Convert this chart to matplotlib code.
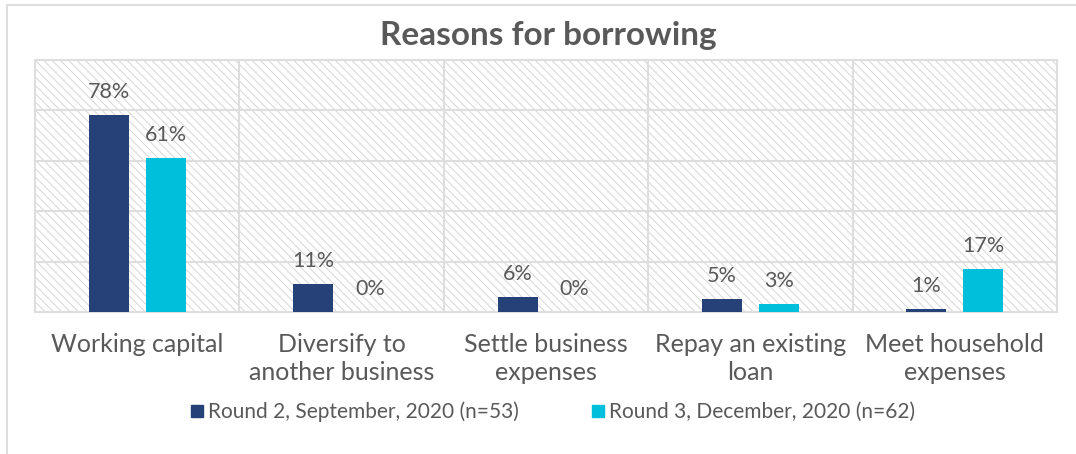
import matplotlib
matplotlib.use("Agg")
import matplotlib.pyplot as plt
from matplotlib.patches import Rectangle
from matplotlib.lines import Line2D
import numpy as np

categories = ["Working capital", "Diversify to\nanother business", "Settle business\nexpenses",
              "Repay an existing\nloan", "Meet household\nexpenses"]
round2_label = "Round 2, September, 2020 (n=53)"
round3_label = "Round 3, December, 2020 (n=62)"
round2 = [78, 11, 6, 5, 1]
round3 = [61, 0, 0, 3, 17]
title = "Reasons for borrowing"

NAVY = "#264078"
CYAN = "#00BFDB"
TEXT = "#595959"
GRID = "#dedede"

plt.rcParams["font.family"] = ["Lato", "DejaVu Sans"]
plt.rcParams["hatch.color"] = "#d6d6d6"
plt.rcParams["hatch.linewidth"] = 0.7

W, H = 1076, 454
fig = plt.figure(figsize=(W / 100, H / 100), dpi=100)
ax = fig.add_axes([35 / W, 142 / H, (1057 - 35) / W, (312 - 60) / H])

# hatched plot-area background
bg = Rectangle((0, 0), 1, 1, transform=ax.transAxes, facecolor="white",
               edgecolor="#d6d6d6", hatch="\\\\\\\\", linewidth=0, zorder=0)
ax.add_patch(bg)

x = np.arange(len(categories))
w = 0.196
off = 0.139
b2 = ax.bar(x - off, round2, w, color=NAVY, zorder=3)
b3 = ax.bar(x + off, round3, w, color=CYAN, zorder=3)

for bars, vals in ((b2, round2), (b3, round3)):
    for rect, v in zip(bars, vals):
        ax.annotate(f"{v}%", (rect.get_x() + rect.get_width() / 2, v),
                    xytext=(0, 12.5), textcoords="offset points",
                    ha="center", va="baseline", fontsize=15.5, color=TEXT, zorder=4)

ax.set_xlim(-0.5, len(categories) - 0.5)
ax.set_ylim(0, 100)
ax.set_yticks([20, 40, 60, 80])
ax.yaxis.grid(True, color=GRID, linewidth=1.5, zorder=1)
for xv in np.arange(0.5, len(categories) - 0.5, 1):
    ax.axvline(xv, color=GRID, linewidth=1.5, zorder=1)
ax.tick_params(axis="y", left=False, labelleft=False)
ax.tick_params(axis="x", length=0, pad=15, labelsize=18, labelcolor=TEXT)
ax.set_xticks(x)
ax.set_xticklabels(categories, linespacing=1.25)
for s in ax.spines.values():
    s.set_color(GRID)
    s.set_linewidth(1.5)
ax.set_axisbelow(True)

fig.text(548 / W, 1 - 35 / H, title, ha="center", va="center", fontsize=24,
         fontweight="bold", color=TEXT)

handles = [Rectangle((0, 0), 1, 1, color=NAVY), Rectangle((0, 0), 1, 1, color=CYAN)]
fig.legend(handles, [round2_label, round3_label], loc="center", bbox_to_anchor=(553 / W, 1 - 412 / H),
           ncol=2, frameon=False, fontsize=15, labelcolor=TEXT, handlelength=0.57,
           handleheight=0.57, handletextpad=0.25, columnspacing=3.5, borderpad=0)

# outer chart border (top and left edges)
fig.add_artist(Line2D([7 / W, 7 / W], [0, 1 - 5 / H], color=GRID, linewidth=1.5))
fig.add_artist(Line2D([7 / W, 1], [1 - 5 / H, 1 - 5 / H], color=GRID, linewidth=1.5))

fig.savefig("out.png", dpi=100)
